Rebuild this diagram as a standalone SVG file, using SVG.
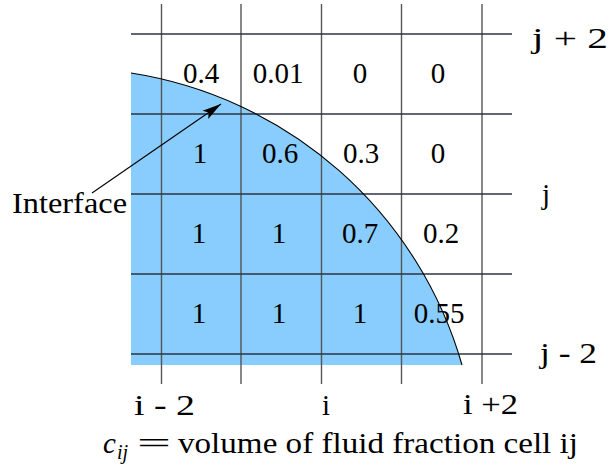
<svg xmlns="http://www.w3.org/2000/svg" width="611" height="468" viewBox="0 0 611 468">
  <defs>
    <marker id="arrow" markerUnits="userSpaceOnUse" viewBox="-20 -6 21 12" markerWidth="21" markerHeight="12" refX="0" refY="0" orient="auto">
      <path d="M0,0 L-19,-5 L-15,0 L-19,5 Z" fill="#000"/>
    </marker>
  </defs>
  <rect width="611" height="468" fill="#fff"/>

  <g id="fluid">
    <path d="M131,73 A410,410 0 0,1 462,365 L131,365 Z" fill="#88cdfd"/>
  </g>

  <g id="grid" stroke-width="1.4">
    <g stroke="#555">
      <line x1="161.5" y1="4" x2="161.5" y2="384"/>
      <line x1="241" y1="4" x2="241" y2="384"/>
      <line x1="321.5" y1="4" x2="321.5" y2="384"/>
      <line x1="401.5" y1="4" x2="401.5" y2="384"/>
      <line x1="482" y1="4" x2="482" y2="384"/>
    </g>
    <g stroke="#2b3540">
      <line x1="131" y1="34" x2="512" y2="34"/>
      <line x1="131" y1="114" x2="512" y2="114"/>
      <line x1="131" y1="194" x2="512" y2="194"/>
      <line x1="131" y1="274" x2="512" y2="274"/>
      <line x1="131" y1="354" x2="512" y2="354"/>
    </g>
  </g>

  <g id="interface-curve">
    <path d="M131,73 A410,410 0 0,1 462,365" fill="none" stroke="#000" stroke-width="1.1"/>
  </g>

  <g id="values">
    <text font-family="Liberation Serif" font-size="29" text-anchor="middle" x="201" y="83">0.4</text>
    <text font-family="Liberation Serif" font-size="29" text-anchor="middle" x="278" y="83">0.01</text>
    <text font-family="Liberation Serif" font-size="29" text-anchor="middle" x="360" y="83">0</text>
    <text font-family="Liberation Serif" font-size="29" text-anchor="middle" x="438" y="83">0</text>
    <text font-family="Liberation Serif" font-size="29" text-anchor="middle" x="200" y="163">1</text>
    <text font-family="Liberation Serif" font-size="29" text-anchor="middle" x="280" y="163">0.6</text>
    <text font-family="Liberation Serif" font-size="29" text-anchor="middle" x="361" y="163">0.3</text>
    <text font-family="Liberation Serif" font-size="29" text-anchor="middle" x="438" y="163">0</text>
    <text font-family="Liberation Serif" font-size="29" text-anchor="middle" x="199" y="243">1</text>
    <text font-family="Liberation Serif" font-size="29" text-anchor="middle" x="279" y="243">1</text>
    <text font-family="Liberation Serif" font-size="29" text-anchor="middle" x="360" y="243">0.7</text>
    <text font-family="Liberation Serif" font-size="29" text-anchor="middle" x="441" y="243">0.2</text>
    <text font-family="Liberation Serif" font-size="29" text-anchor="middle" x="199" y="323">1</text>
    <text font-family="Liberation Serif" font-size="29" text-anchor="middle" x="279" y="323">1</text>
    <text font-family="Liberation Serif" font-size="29" text-anchor="middle" x="360" y="323">1</text>
    <text font-family="Liberation Serif" font-size="29" text-anchor="middle" x="439" y="323">0.55</text>
  </g>

  <g id="row-labels">
    <text font-family="Liberation Serif" font-size="29" x="532" y="48" textLength="76" lengthAdjust="spacingAndGlyphs">j + 2</text>
    <text font-family="Liberation Serif" font-size="29" x="542" y="204">j</text>
    <text font-family="Liberation Serif" font-size="29" x="540" y="363" textLength="57" lengthAdjust="spacingAndGlyphs">j - 2</text>
  </g>

  <g id="col-labels">
    <text font-family="Liberation Serif" font-size="29" x="134" y="415" textLength="61" lengthAdjust="spacingAndGlyphs">i - 2</text>
    <text font-family="Liberation Serif" font-size="29" x="326" y="415" text-anchor="middle">i</text>
    <text font-family="Liberation Serif" font-size="29" x="463" y="414" textLength="55" lengthAdjust="spacingAndGlyphs">i +2</text>
  </g>

  <g id="interface-label">
    <text font-family="Liberation Serif" font-size="29" x="12" y="213" textLength="115" lengthAdjust="spacingAndGlyphs">Interface</text>
  </g>

  <g id="connectors">
    <line x1="92" y1="193" x2="221" y2="104" stroke="#000" stroke-width="1.1" marker-end="url(#arrow)"/>
  </g>

  <g id="caption">
    <text font-family="Liberation Serif" font-size="29" x="103" y="453" font-style="italic">c</text>
    <text font-family="Liberation Serif" font-size="20" x="117" y="459" font-style="italic">ij</text>
    <text font-family="Liberation Serif" font-size="29" x="137" y="453" textLength="34" lengthAdjust="spacingAndGlyphs">=</text>
    <text font-family="Liberation Serif" font-size="29" x="178" y="453" textLength="400" lengthAdjust="spacingAndGlyphs">volume of fluid fraction cell ij</text>
  </g>
</svg>
